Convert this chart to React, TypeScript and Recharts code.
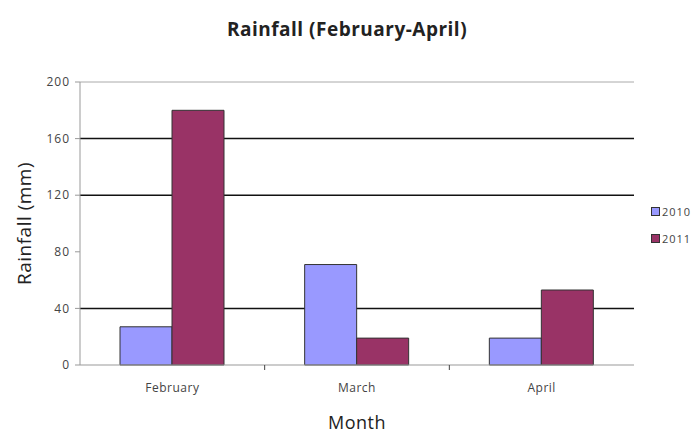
import React from "react";
import { BarChart, Bar, XAxis, YAxis, CartesianGrid, ReferenceLine, Legend } from "recharts";

const months = ["February", "March", "April"];
const rain2010 = [27, 71, 19];
const rain2011 = [180, 19, 53];
const yTicks = [0, 40, 80, 120, 160, 200];
const gridValues = [40, 120, 160];
const seriesNames = ["2010", "2011"];
const seriesColors = ["#9999FF", "#993366"];

const chartData = months.map((m, i) => ({
    month: m,
    y2010: rain2010[i],
    y2011: rain2011[i],
}));

const W = 698;
const H = 436;
const X_AXIS_H = 71;
const margin = { top: 82, right: 64, bottom: 0, left: 0 };
const Y_AXIS_W = 80;
const axisY = H - X_AXIS_H;
const band = (W - margin.right - Y_AXIS_W) / months.length;
const FONT = "'Open Sans', 'Noto Sans', sans-serif";

const MonthTick = (props: any) => {
    const { x, payload, index } = props;
    return (
        <g>
            <text
                x={x}
                y={axisY + 27}
                textAnchor="middle"
                fontSize={12}
                letterSpacing={0.5}
                fill="#444"
                fontFamily={FONT}
            >
                {payload.value}
            </text>
            {index > 0 && (
                <line x1={x - band / 2} x2={x - band / 2} y1={axisY} y2={axisY + 5} stroke="#444" />
            )}
        </g>
    );
};

const LegendBox = () => (
    <div style={{ fontFamily: FONT, fontSize: 11, letterSpacing: 1, color: "#444" }}>
        {seriesNames.map((name, i) => (
            <div key={name} style={{ display: "flex", alignItems: "center", height: 27 }}>
                <span
                    style={{
                        display: "inline-block",
                        width: 7,
                        height: 7,
                        background: seriesColors[i],
                        border: "1px solid #333",
                        marginRight: 2,
                    }}
                />
                {name}
            </div>
        ))}
    </div>
);

export default function App() {
    return (
        <div style={{ position: "relative", width: W, height: H, background: "#fff" }}>
            <style>{"body{margin:0}"}</style>
            <div
                style={{
                    position: "absolute",
                    left: 0,
                    width: 694,
                    top: 16,
                    textAlign: "center",
                    fontFamily: FONT,
                    fontWeight: 700,
                    fontSize: 19,
                    letterSpacing: 0.5,
                    color: "#222",
                }}
            >
                Rainfall (February-April)
            </div>
            <BarChart width={W} height={H} data={chartData} margin={margin} barGap={0} barCategoryGap={40}>
                <CartesianGrid horizontal vertical={false} horizontalValues={gridValues} stroke="#111" strokeWidth={1.5} />
                <XAxis
                    dataKey="month"
                    height={X_AXIS_H}
                    tickLine={false}
                    tickSize={0}
                    axisLine={{ stroke: "#999" }}
                    tick={<MonthTick />}
                    interval={0}
                    label={{
                        value: "Month",
                        position: "insideBottom",
                        offset: 7,
                        style: { fontSize: 18, letterSpacing: 0.5, fill: "#222", fontFamily: FONT },
                    }}
                />
                <YAxis
                    domain={[0, 200]}
                    ticks={yTicks}
                    interval={0}
                    width={Y_AXIS_W}
                    tickSize={5}
                    tickMargin={5}
                    axisLine={{ stroke: "#999" }}
                    tickLine={{ stroke: "#999" }}
                    tick={{ fontSize: 12, letterSpacing: 1, fill: "#444", fontFamily: FONT }}
                    label={{
                        value: "Rainfall (mm)",
                        angle: -90,
                        position: "insideLeft",
                        offset: 24,
                        style: { textAnchor: "middle", fontSize: 19, letterSpacing: 0.5, fill: "#222", fontFamily: FONT },
                    }}
                />
                <YAxis
                    yAxisId="r"
                    orientation="right"
                    domain={[0, 200]}
                    width={0}
                    tick={false}
                    tickLine={false}
                    axisLine={{ stroke: "#aaa" }}
                />
                <ReferenceLine y={200} stroke="#aaa" />
                <Legend
                    layout="horizontal"
                    verticalAlign="middle"
                    align="center"
                    content={<LegendBox />}
                    wrapperStyle={{ left: 651, top: 198, width: 47 }}
                />
                <Bar dataKey="y2010" name={seriesNames[0]} fill={seriesColors[0]} stroke="#333" strokeWidth={1} isAnimationActive={false} />
                <Bar dataKey="y2011" name={seriesNames[1]} fill={seriesColors[1]} stroke="#333" strokeWidth={1} isAnimationActive={false} />
            </BarChart>
        </div>
    );
}
